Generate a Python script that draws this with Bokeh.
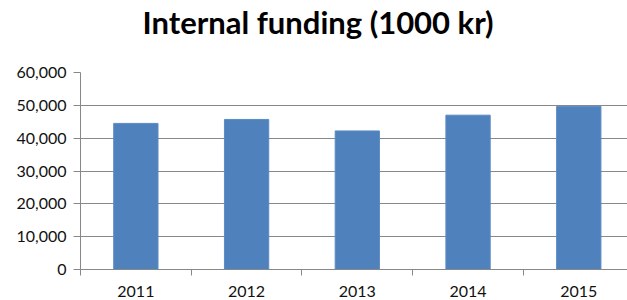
from bokeh.plotting import figure
from bokeh.models import FixedTicker, Range1d, NumeralTickFormatter, Title
from bokeh.embed import file_html
from bokeh.resources import INLINE

title_text = "Internal funding (1000 kr)"
years = ["2011", "2012", "2013", "2014", "2015"]
funding = [44500, 45700, 42200, 47000, 49700]
y_ticks = [0, 10000, 20000, 30000, 40000, 50000, 60000]

xs = list(range(len(years)))
bounds = [i - 0.5 for i in range(len(years) + 1)]

p = figure(width=627, height=300, output_backend="svg", toolbar_location=None,
           x_range=Range1d(-0.5, 4.44), y_range=Range1d(0, 60000),
           min_border_left=80, min_border_right=0, min_border_bottom=31, min_border_top=71)
p.outline_line_color = None
p.background_fill_color = "white"
p.border_fill_color = "white"

# spacer panel between the frame and the title
spacer = Title(text=" ", text_font_size="1px", standoff=29)
p.add_layout(spacer, "above")
t = Title(text=title_text, align="left", offset=62, vertical_align="bottom",
          text_font="Lato", text_font_size="31px", text_font_style="bold",
          text_color="#000000", standoff=0)
p.add_layout(t, "above")

p.vbar(x=xs, top=funding, width=0.4, bottom=0,
       fill_color="#4F81BD", line_color="#5B8AC4", line_width=1)

grid_color = "#888888"
p.xgrid.grid_line_color = None
p.ygrid.grid_line_color = grid_color
p.ygrid.ticker = FixedTicker(ticks=y_ticks)

xa = p.xaxis[0]
xa.ticker = FixedTicker(ticks=xs, minor_ticks=bounds)
xa.major_label_overrides = {i: y for i, y in enumerate(years)}
xa.major_tick_line_color = None
xa.major_tick_out = 0
xa.major_tick_in = 0
xa.minor_tick_line_color = grid_color
xa.minor_tick_out = 6
xa.minor_tick_in = 0
xa.axis_line_color = grid_color
xa.major_label_standoff = 10
xa.major_label_text_font = "Lato"
xa.major_label_text_font_size = "16px"
xa.major_label_text_color = "#111111"

ya = p.yaxis[0]
ya.ticker = FixedTicker(ticks=y_ticks)
ya.formatter = NumeralTickFormatter(format="0,0")
ya.axis_line_color = grid_color
ya.major_tick_line_color = grid_color
ya.major_tick_out = 7
ya.major_tick_in = 0
ya.minor_tick_line_color = None
ya.major_label_standoff = 7
ya.major_label_text_font = "Lato"
ya.major_label_text_font_size = "16px"
ya.major_label_text_color = "#111111"

open("out.html", "w").write(file_html(p, INLINE))
